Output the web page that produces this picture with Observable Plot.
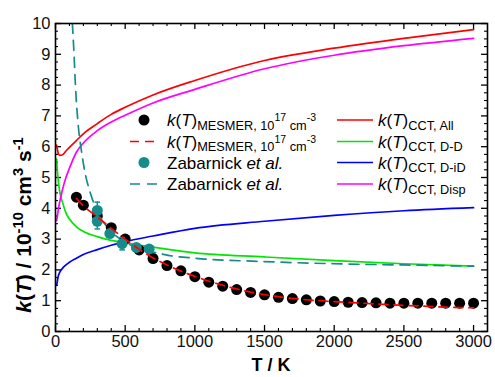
<!DOCTYPE html>
<html><head><meta charset="utf-8">
<script src="https://cdn.jsdelivr.net/npm/d3@7"></script>
<script src="https://cdn.jsdelivr.net/npm/@observablehq/plot@0.6"></script>
<style>
body{margin:0;background:#fff}
#chart svg{font-family:"Liberation Sans",Arial,sans-serif}
</style>
</head><body><div id="chart"></div>
<script>
// ---- Data ----
const mesmerDotT = [150,200,300,400,500,600,700,800,900,1000,1100,1200,1300,1400,1500,1600,1700,1800,1900,2000,2100,2200,2300,2400,2500,2600,2700,2800,2900,3000];
const mesmerDotK = [4.36,4.10,3.75,3.37,3.00,2.65,2.37,2.14,1.97,1.78,1.60,1.47,1.36,1.27,1.19,1.11,1.07,1.03,0.99,0.97,0.95,0.94,0.93,0.92,0.92,0.92,0.92,0.92,0.92,0.92];

const mesmerLineT = [150,200,300,400,500,600,700,800,900,1000,1200,1400,1600,1800,2000,2200,2400,2600,2800,3000];
const mesmerLineK = [4.32,4.08,3.72,3.35,3.00,2.67,2.39,2.16,1.96,1.79,1.50,1.28,1.13,1.03,0.97,0.92,0.87,0.83,0.79,0.77];

const zabT   = [300,300,390,478,580,672];
const zabK   = [3.93,3.58,3.18,2.85,2.73,2.68];
const zabErr = [0.27,0.25,0,0.2,0,0];

const zabFitT = [121,133,143,162,185,210,250,300,400,500,600,700,800,1000,1500,2000,2500,3000];
const zabFitK = [10,9,8,6.75,5.9,5.2,4.5,3.9,3.25,2.9,2.7,2.58,2.48,2.38,2.27,2.2,2.16,2.12];

const cctT    = [8,12,20,30,50,75,100,150,200,300,400,500,700,1000,1500,2000,2500,3000];
const cctAll  = [6.05,5.95,5.78,5.72,5.74,5.86,5.98,6.2,6.42,6.75,7.05,7.28,7.68,8.15,8.8,9.2,9.52,9.8];
const cctDisp = [3.6,3.7,3.95,4.2,4.6,5.0,5.3,5.82,6.12,6.52,6.8,7.02,7.42,7.86,8.53,8.97,9.28,9.52];
const cctDD   = [5.6,5.3,4.9,4.55,4.2,3.85,3.65,3.4,3.25,3.08,2.96,2.88,2.74,2.55,2.42,2.3,2.2,2.12];
const cctDiD  = [1.5,1.6,1.8,1.92,2.05,2.16,2.25,2.38,2.5,2.66,2.8,2.92,3.1,3.35,3.58,3.77,3.92,4.02];

const xMajor = [0,500,1000,1500,2000,2500,3000];
const yMajor = [0,1,2,3,4,5,6,7,8,9,10];
const xMinor = d3.range(100,3100,100).filter(v => v % 500 !== 0);
const yMinor = d3.range(0.25,10,0.25).filter(v => v % 1 !== 0);

// ---- colours ----
const C = {all:"#ff0000", disp:"#ff00ff", dd:"#00e600", did:"#0000ff", teal:"#158b8b", red:"#ff0000"};

const rows = (T, K) => T.map((t,i) => ({T:t, k:K[i]}));
const cct = key => cctT.map((t,i) => ({T:t, k:key[i]}));
const zab = zabT.map((t,i) => ({T:t, k:zabK[i], e:zabErr[i]}));
const zabBars = zab.filter(d => d.e > 0);

const W = 495, H = 377, mL = 55, mR = 8, mT = 23, mB = 46;
const pw = W - mL - mR, ph = H - mT - mB;

const plot = Plot.plot({
  width: W, height: H,
  marginLeft: mL, marginRight: mR, marginTop: mT, marginBottom: mB,
  x: {domain: [0, 3100], label: null},
  y: {domain: [0, 10], label: null},
  style: {fontFamily: "Liberation Sans, Arial, sans-serif", fontSize: "16px", color: "#111", background: "#fff"},
  marks: [
    Plot.axisX({ticks: xMajor, tickFormat: d3.format("d"), tickSize: 0, tickPadding: 4, label: null, fontSize: 16.5}),
    Plot.axisY({ticks: yMajor, tickFormat: d3.format("d"), tickSize: 0, tickPadding: 5, label: null, fontSize: 16.5}),
    // inward ticks
    Plot.tickX(xMajor, {x: d => d, insetTop: ph - 6, stroke: "#000", strokeWidth: 1.3}),
    Plot.tickX(xMajor, {x: d => d, insetBottom: ph - 6, stroke: "#000", strokeWidth: 1.3}),
    Plot.tickX(xMinor, {x: d => d, insetTop: ph - 3, stroke: "#000", strokeWidth: 1.1}),
    Plot.tickX(xMinor, {x: d => d, insetBottom: ph - 3, stroke: "#000", strokeWidth: 1.1}),
    Plot.tickY(yMajor, {y: d => d, insetRight: pw - 6, stroke: "#000", strokeWidth: 1.3}),
    Plot.tickY(yMajor, {y: d => d, insetLeft: pw - 6, stroke: "#000", strokeWidth: 1.3}),
    Plot.tickY(yMinor, {y: d => d, insetRight: pw - 3, stroke: "#000", strokeWidth: 1.1}),
    Plot.tickY(yMinor, {y: d => d, insetLeft: pw - 3, stroke: "#000", strokeWidth: 1.1}),
    // CCT curves
    Plot.line(cct(cctDiD), {x: "T", y: "k", stroke: C.did, strokeWidth: 1.7, curve: "monotone-x", clip: true}),
    Plot.line(cct(cctDD), {x: "T", y: "k", stroke: C.dd, strokeWidth: 1.7, curve: "monotone-x", clip: true}),
    Plot.line(cct(cctDisp), {x: "T", y: "k", stroke: C.disp, strokeWidth: 1.7, curve: "monotone-x", clip: true}),
    Plot.line(cct(cctAll), {x: "T", y: "k", stroke: C.all, strokeWidth: 1.7, curve: "monotone-x", clip: true}),
    // Zabarnick fit
    Plot.line(rows(zabFitT, zabFitK), {x: "T", y: "k", stroke: C.teal, strokeWidth: 1.7, strokeDasharray: "10,7", curve: "monotone-x", clip: true}),
    // MESMER dots
    Plot.dot(rows(mesmerDotT, mesmerDotK), {x: "T", y: "k", r: 5.5, fill: "#000"}),
    // Zabarnick points with error bars
    Plot.ruleX(zabBars, {x: "T", y1: d => d.k - d.e, y2: d => d.k + d.e, stroke: C.teal, strokeWidth: 1.5}),
    Plot.link(zabBars, {x1: d => d.T - 20, x2: d => d.T + 20, y1: d => d.k + d.e, y2: d => d.k + d.e, stroke: C.teal, strokeWidth: 1.5}),
    Plot.link(zabBars, {x1: d => d.T - 20, x2: d => d.T + 20, y1: d => d.k - d.e, y2: d => d.k - d.e, stroke: C.teal, strokeWidth: 1.5}),
    Plot.dot(zab, {x: "T", y: "k", r: 5.5, fill: C.teal}),
    // MESMER line
    Plot.line(rows(mesmerLineT, mesmerLineK), {x: "T", y: "k", stroke: C.red, strokeWidth: 1.7, strokeDasharray: "9,6", curve: "monotone-x"}),
    Plot.frame({stroke: "#000", strokeWidth: 1.6})
  ]
});
document.getElementById("chart").appendChild(plot);

// ---- rich text helper ----
function rich(g, x, y, segs, base, opt = {}) {
  const t = g.append("text").attr("x", x).attr("y", y)
    .attr("font-size", base).attr("fill", "#000")
    .attr("font-weight", opt.bold ? "bold" : null)
    .attr("text-anchor", opt.anchor || "start");
  if (opt.transform) t.attr("transform", opt.transform);
  let cur = 0;
  for (const s of segs) {
    let off = 0, size = base;
    if (s.m === "sub") { off = base * 0.22; size = base * 0.75; }
    if (s.m === "sup") { off = -base * 0.38; size = base * 0.7; }
    if (s.m === "subsup") { off = -base * 0.28; size = base * 0.62; }
    const sp = t.append("tspan").text(s.t).attr("font-size", size).attr("dy", off - cur);
    if (s.i) sp.attr("font-style", "italic");
    cur = off;
  }
  return t;
}
const kT = [{t:"k", i:1}, {t:"("}, {t:"T", i:1}, {t:")"}];
const svg = d3.select(plot);
const g = svg.append("g");

// left legend
const LY = [120, 141.5, 162.5, 184];
const lx0 = 130, lx1 = 158, ltx = 167;
const mesLabel = [...kT, {t:"MESMER, 10", m:"sub"}, {t:"17", m:"subsup"}, {t:" cm", m:"sub"}, {t:"-3", m:"subsup"}];
g.append("circle").attr("cx", 144).attr("cy", LY[0]).attr("r", 5.5).attr("fill", "#000");
rich(g, ltx, LY[0] + 6, mesLabel, 17);
g.append("line").attr("x1", lx0).attr("x2", lx1).attr("y1", LY[1]).attr("y2", LY[1]).attr("stroke", C.red).attr("stroke-width", 1.7).attr("stroke-dasharray", "9,6");
rich(g, ltx, LY[1] + 6, mesLabel, 17);
g.append("circle").attr("cx", 144).attr("cy", LY[2]).attr("r", 5.5).attr("fill", C.teal);
rich(g, ltx, LY[2] + 6, [{t:"Zabarnick "}, {t:"et al.", i:1}], 17);
g.append("line").attr("x1", lx0).attr("x2", lx1).attr("y1", LY[3]).attr("y2", LY[3]).attr("stroke", C.teal).attr("stroke-width", 1.7).attr("stroke-dasharray", "10,7");
rich(g, ltx, LY[3] + 6, [{t:"Zabarnick "}, {t:"et al.", i:1}], 17);

// right legend
const rlab = ["CCT, All", "CCT, D-D", "CCT, D-iD", "CCT, Disp"];
const rcol = [C.all, C.dd, C.did, C.disp];
rlab.forEach((s, i) => {
  g.append("line").attr("x1", 337).attr("x2", 373).attr("y1", LY[i]).attr("y2", LY[i]).attr("stroke", rcol[i]).attr("stroke-width", 1.7);
  rich(g, 378, LY[i] + 6, [...kT, {t:s, m:"sub"}], 17);
});

// axis titles
rich(g, 271, 371, [{t:"T / K"}], 18, {bold: true, anchor: "middle"});
rich(g, 0, 0, [...kT, {t:" / 10"}, {t:"-10", m:"sup"}, {t:" cm"}, {t:"3", m:"sup"}, {t:" s"}, {t:"-1", m:"sup"}], 21,
  {bold: true, anchor: "middle", transform: "translate(31,225) rotate(-90)"});
</script>
</body></html>
